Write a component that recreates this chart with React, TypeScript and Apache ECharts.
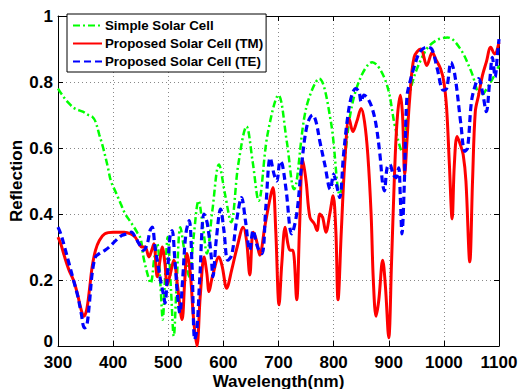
import React, { useEffect, useRef } from "react";
import * as echarts from "echarts";

const xTicks = [300, 400, 500, 600, 700, 800, 900, 1000, 1100];
const yTicks = [0, 0.2, 0.4, 0.6, 0.8, 1];

const seriesNames = ["Simple Solar Cell", "Proposed Solar Cell (TM)", "Proposed Solar Cell (TE)"];

const wlSimple = [300, 310, 320, 330, 345, 355, 362, 368, 375, 382, 390, 396, 405, 414, 422, 430, 438, 445, 450, 455, 462, 468, 475, 480, 486, 490, 494, 499, 505, 510, 515, 522, 530, 538, 546, 555, 563, 570, 580, 592, 603, 614, 627, 642, 653, 664, 680, 700, 715, 728, 750, 774, 795, 811, 830, 848, 870, 895, 912, 924, 940, 965, 985, 1007, 1030, 1050, 1067, 1085, 1100];
const simple = [0.78, 0.755, 0.735, 0.72, 0.71, 0.70, 0.695, 0.68, 0.64, 0.60, 0.545, 0.50, 0.465, 0.43, 0.40, 0.38, 0.36, 0.34, 0.325, 0.27, 0.22, 0.19, 0.27, 0.31, 0.18, 0.08, 0.2, 0.33, 0.17, 0.03, 0.18, 0.36, 0.28, 0.21, 0.33, 0.44, 0.36, 0.28, 0.41, 0.55, 0.46, 0.375, 0.55, 0.665, 0.56, 0.44, 0.64, 0.76, 0.62, 0.475, 0.72, 0.81, 0.68, 0.46, 0.70, 0.81, 0.86, 0.80, 0.66, 0.59, 0.78, 0.89, 0.925, 0.935, 0.90, 0.83, 0.76, 0.80, 0.85];

const wlTM = [300, 305, 312, 320, 328, 335, 342, 347, 352, 357, 362, 368, 375, 385, 400, 420, 432, 440, 447, 452, 458, 465, 470, 474, 480, 485, 489, 494, 498, 504, 510, 517, 525, 530, 534, 540, 546, 552, 558, 565, 570, 574, 580, 592, 598, 606, 615, 625, 636, 642, 648, 654, 660, 666, 675, 685, 690, 695, 701, 706, 712, 717, 721, 726, 733, 738, 744, 750, 757, 765, 770, 775, 780, 786, 793, 799, 804, 808, 814, 820, 828, 835, 842, 850, 856, 862, 868, 872, 877, 882, 889, 894, 900, 905, 910, 915, 921, 925, 929, 933, 938, 946, 958, 969, 979, 985, 994, 1000, 1005, 1010, 1015, 1019, 1024, 1030, 1035, 1040, 1047, 1052, 1057, 1063, 1070, 1077, 1085, 1092, 1100];
const tm = [0.33, 0.31, 0.27, 0.23, 0.20, 0.16, 0.11, 0.09, 0.11, 0.17, 0.24, 0.29, 0.32, 0.34, 0.345, 0.345, 0.34, 0.33, 0.31, 0.30, 0.30, 0.27, 0.29, 0.31, 0.21, 0.26, 0.30, 0.25, 0.185, 0.22, 0.26, 0.18, 0.08, 0.2, 0.28, 0.22, 0.08, 0.0, 0.15, 0.27, 0.22, 0.165, 0.21, 0.27, 0.24, 0.175, 0.23, 0.30, 0.36, 0.32, 0.215, 0.345, 0.32, 0.275, 0.36, 0.45, 0.48, 0.35, 0.125, 0.25, 0.36, 0.31, 0.29, 0.29, 0.14, 0.35, 0.565, 0.50, 0.39, 0.37, 0.35, 0.40, 0.39, 0.345, 0.40, 0.455, 0.35, 0.14, 0.35, 0.55, 0.69, 0.65, 0.68, 0.72, 0.68, 0.58, 0.40, 0.20, 0.09, 0.14, 0.26, 0.18, 0.025, 0.25, 0.50, 0.68, 0.76, 0.70, 0.52, 0.62, 0.75, 0.875, 0.90, 0.85, 0.89, 0.87, 0.84, 0.80, 0.72, 0.55, 0.385, 0.55, 0.635, 0.61, 0.58, 0.50, 0.255, 0.50, 0.71, 0.76, 0.82, 0.86, 0.905, 0.885, 0.92];

const wlTE = [300, 305, 312, 320, 328, 336, 342, 348, 352, 357, 362, 368, 375, 385, 393, 405, 416, 425, 433, 440, 447, 455, 462, 467, 471, 476, 482, 487, 492, 494, 498, 503, 507, 512, 517, 521, 526, 532, 538, 543, 548, 552, 557, 565, 571, 578, 581, 587, 595, 601, 608, 615, 624, 633, 640, 648, 654, 662, 670, 677, 685, 692, 697, 703, 707, 714, 724, 733, 742, 752, 762, 768, 775, 784, 794, 800, 805, 811, 818, 826, 833, 840, 846, 850, 855, 862, 870, 877, 884, 889, 892, 897, 902, 908, 913, 918, 921, 924, 928, 933, 940, 947, 956, 968, 978, 988, 999, 1005, 1013, 1020, 1031, 1038, 1043, 1050, 1057, 1063, 1070, 1077, 1083, 1088, 1093, 1097, 1100];
const te = [0.36, 0.34, 0.30, 0.25, 0.20, 0.15, 0.10, 0.055, 0.06, 0.13, 0.22, 0.27, 0.28, 0.29, 0.30, 0.32, 0.335, 0.34, 0.345, 0.33, 0.31, 0.29, 0.31, 0.35, 0.36, 0.30, 0.24, 0.19, 0.15, 0.13, 0.20, 0.33, 0.35, 0.26, 0.15, 0.10, 0.2, 0.34, 0.38, 0.25, 0.02, 0.05, 0.2, 0.40, 0.37, 0.27, 0.21, 0.32, 0.415, 0.35, 0.26, 0.275, 0.38, 0.45, 0.38, 0.29, 0.35, 0.30, 0.28, 0.42, 0.57, 0.52, 0.50, 0.56, 0.55, 0.47, 0.34, 0.40, 0.55, 0.67, 0.70, 0.68, 0.62, 0.55, 0.475, 0.52, 0.49, 0.45, 0.58, 0.70, 0.76, 0.78, 0.77, 0.74, 0.76, 0.75, 0.72, 0.67, 0.58, 0.49, 0.47, 0.54, 0.55, 0.52, 0.51, 0.54, 0.45, 0.34, 0.48, 0.755, 0.81, 0.85, 0.89, 0.905, 0.90, 0.84, 0.775, 0.78, 0.86, 0.82, 0.67, 0.59, 0.60, 0.74, 0.79, 0.81, 0.77, 0.71, 0.80, 0.875, 0.815, 0.88, 0.93];

const zip = (xs: number[], ys: number[]) => xs.map((x, i) => [x, ys[i]]);

const FONT = "Liberation Sans";

export default function App() {
  const ref = useRef<HTMLDivElement>(null);
  useEffect(() => {
    if (!ref.current) return;
    const chart = echarts.init(ref.current, undefined, { renderer: "svg" });
    const gridLine = { show: true, lineStyle: { color: "#888", type: [1, 3] as any, width: 1 } };
    const axisLine = { show: true, onZero: false, lineStyle: { color: "#000", width: 1 } };
    const tick = { show: true, inside: true, length: 5, lineStyle: { color: "#000" } };
    const label = { fontFamily: FONT, fontWeight: "bold" as const, fontSize: 17, color: "#000" };
    chart.setOption({
      animation: false,
      backgroundColor: "#fff",
      grid: { left: 58, right: 22, top: 16, bottom: 43, containLabel: false, outerBoundsMode: "none" },
      legend: {
        orient: "vertical",
        left: 67,
        top: 14,
        itemWidth: 29,
        itemHeight: 10,
        itemGap: 5,
        padding: [5, 3, 4, 5],
        backgroundColor: "#fff",
        borderColor: "#000",
        borderWidth: 1,
        borderRadius: 0,
        data: seriesNames,
        itemStyle: { opacity: 0 },
        textStyle: { fontFamily: FONT, fontWeight: "bold", fontSize: 13.3, color: "#000", padding: [0, 0, 0, -2] },
      },
      xAxis: [
        {
          type: "value", min: 300, max: 1100, interval: 100,
          name: "Wavelength(nm)", nameLocation: "middle", nameGap: 28, nameMoveOverlap: false,
          nameTextStyle: { ...label, lineHeight: 14 },
          axisLine, axisTick: tick, splitLine: gridLine,
          axisLabel: { ...label, lineHeight: 14, margin: 9, formatter: (v: number) => String(v) },
        },
        {
          type: "value", min: 300, max: 1100, interval: 100, position: "top",
          axisLine, axisTick: tick, splitLine: { show: false }, axisLabel: { show: false },
        },
      ],
      yAxis: [
        {
          type: "value", min: 0, max: 1, interval: 0.2,
          name: "Reflection", nameLocation: "middle", nameGap: 33, nameMoveOverlap: false,
          nameTextStyle: { ...label },
          axisLine, axisTick: tick, splitLine: gridLine,
          axisLabel: {
            ...label, lineHeight: 14, margin: 5,
            formatter: (v: number) => (v === 0 ? "{z|0}" : String(v)),
            rich: { z: { ...label, lineHeight: 14, padding: [0, 0, 10, 0] } },
          },
        },
        {
          type: "value", min: 0, max: 1, interval: 0.2, position: "right",
          axisLine, axisTick: tick, splitLine: { show: false }, axisLabel: { show: false },
        },
      ],
      series: [
        {
          name: seriesNames[0], type: "line", symbol: "none", smooth: 0.35,
          data: zip(wlSimple, simple), z: 2,
          lineStyle: { color: "#00ff00", width: 2.5, type: [7, 3, 2, 3] },
          itemStyle: { color: "#00ff00" },
        },
        {
          name: seriesNames[1], type: "line", symbol: "none", smooth: 0.35,
          data: zip(wlTM, tm), z: 3,
          lineStyle: { color: "#ff0000", width: 3 },
          itemStyle: { color: "#ff0000" },
        },
        {
          name: seriesNames[2], type: "line", symbol: "none", smooth: 0.35,
          data: zip(wlTE, te), z: 4,
          lineStyle: { color: "#0000ff", width: 3.2, type: [7, 4] },
          itemStyle: { color: "#0000ff" },
        },
      ],
    });
    return () => chart.dispose();
  }, []);
  return <div ref={ref} style={{ width: 521, height: 389, position: "absolute", left: 0, top: 0 }} />;
}
